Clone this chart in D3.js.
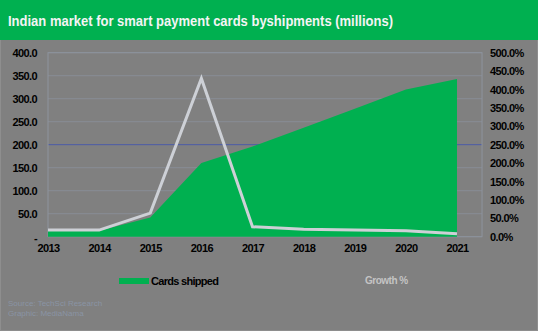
<!DOCTYPE html>
<html><head><meta charset="utf-8">
<script src="https://cdn.jsdelivr.net/npm/d3@7"></script>
<style>
html,body{margin:0;padding:0;background:#808080;}
svg{display:block;font-family:Arial,"Liberation Sans",sans-serif;}
</style></head>
<body><svg id="c" width="538" height="331"></svg>
<script>
const years = ["2013","2014","2015","2016","2017","2018","2019","2020","2021"];
const cardsShipped = [13, 13, 42, 160, 196, 237, 278, 320, 343];
const growthPct = [18, 18, 64, 430, 27, 20, 18, 16, 8];
const leftTicks = [0, 50, 100, 150, 200, 250, 300, 350, 400];
const rightTicks = [0, 50, 100, 150, 200, 250, 300, 350, 400, 450, 500];
const titleText = "Indian market for smart payment cards byshipments (millions)";
const legendLabels = ["Cards shipped", "Growth %"];
const sourceLines = ["Source: TechSci Research", "Graphic: MediaNama"];

const svg = d3.select("#c");
const W = 538, H = 331;
const plot = {l: 48, r: 482, t: 52.7, b: 236.7, xEnd: 457};

svg.append("rect").attr("width", W).attr("height", H).attr("fill", "#808080");
svg.append("rect").attr("x",0.5).attr("y",0.5).attr("width",W-1).attr("height",H-1)
  .attr("fill","none").attr("stroke","#8e8e8e");
// title bar
svg.append("rect").attr("width", W).attr("height", 40).attr("fill", "#00b050");
svg.append("text").attr("x", 8).attr("y", 26).text(titleText)
  .attr("fill", "#f4f4f4").attr("font-weight", "bold").attr("font-size", 15)
  .attr("textLength", 385).attr("lengthAdjust", "spacingAndGlyphs");

const x = d3.scalePoint().domain(years).range([plot.l, plot.xEnd]);
const yL = d3.scaleLinear().domain([0, 400]).range([plot.b, plot.t]);
const yR = d3.scaleLinear().domain([0, 500]).range([plot.b, plot.t]);

// gridlines
svg.append("g").selectAll("line").data(leftTicks).join("line")
  .attr("x1", plot.l).attr("x2", plot.r)
  .attr("y1", d => yL(d)).attr("y2", d => yL(d))
  .attr("stroke", d => d === 200 ? "#4b5aa8" : "#888d96")
  .attr("stroke-width", 1);
// frame
svg.append("rect").attr("x", plot.l).attr("y", plot.t)
  .attr("width", plot.r - plot.l).attr("height", plot.b - plot.t)
  .attr("fill", "none").attr("stroke", "#8d939d");

// area
const area = d3.area().x((d, i) => x(years[i])).y0(yL(0)).y1(d => yL(d));
svg.append("path").datum(cardsShipped).attr("d", area).attr("fill", "#00b050");

// growth line
const line = d3.line().x((d, i) => x(years[i])).y(d => yR(d));
svg.append("path").datum(growthPct).attr("d", line)
  .attr("fill", "none").attr("stroke", "#cdd0d6").attr("stroke-width", 3)
  .attr("stroke-linejoin", "miter");

// left axis
const axL = d3.axisLeft(yL).tickValues(leftTicks).tickSize(0).tickPadding(0)
  .tickFormat(d => d === 0 ? "-" : d3.format(".1f")(d));
const gL = svg.append("g").attr("transform", `translate(37,0)`).call(axL);
// right axis
const axR = d3.axisRight(yR).tickValues(rightTicks).tickSize(0).tickPadding(0)
  .tickFormat(d => d3.format(".1f")(d) + "%");
const gR = svg.append("g").attr("transform", `translate(490,0)`).call(axR);
// bottom axis
const axB = d3.axisBottom(x).tickSize(0).tickPadding(0);
const gB = svg.append("g").attr("transform", `translate(0,${plot.b + 7.5})`).call(axB);
[gL, gR, gB].forEach(g => {
  g.select(".domain").remove();
  g.selectAll("text").attr("fill", "#000").attr("font-weight", "bold")
    .attr("font-size", 11).attr("letter-spacing", "-0.6px")
    .attr("font-family", "Arial, 'Liberation Sans', sans-serif");
});
gL.selectAll("text").filter(d => d === 0).attr("dy", "0.45em");

// legend
svg.append("rect").attr("x", 119).attr("y", 278).attr("width", 30).attr("height", 6).attr("fill", "#00b050");
svg.append("text").attr("x", 151).attr("y", 285).text(legendLabels[0])
  .attr("font-weight", "bold").attr("font-size", 11).attr("letter-spacing", "-0.7px").attr("fill", "#000");
svg.append("text").attr("x", 365).attr("y", 284).text(legendLabels[1])
  .attr("font-weight", "bold").attr("font-size", 10).attr("letter-spacing", "-0.5px").attr("fill", "#c4c4c4");

// source
sourceLines.forEach((s, i) => {
  svg.append("text").attr("x", 8).attr("y", 306 + i * 10).text(s)
    .attr("font-size", 8).attr("fill", "#8a94a4");
});
</script></body></html>
